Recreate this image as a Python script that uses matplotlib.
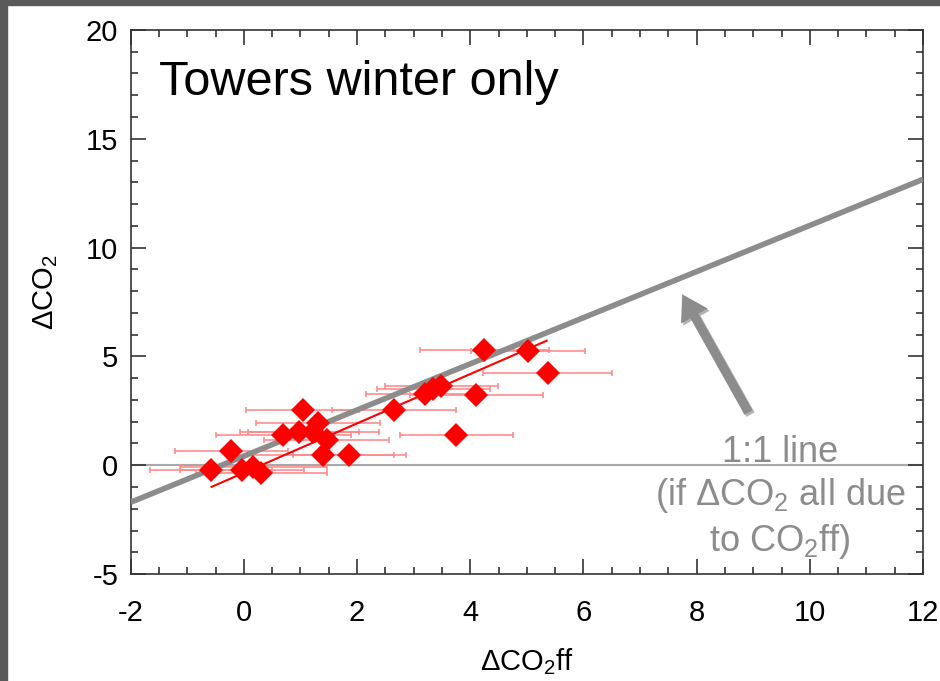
import numpy as np
import matplotlib.pyplot as plt
import matplotlib.patheffects as pe
from matplotlib.patches import Rectangle
from matplotlib.ticker import MultipleLocator

plt.rcParams['font.family'] = ['Liberation Sans', 'DejaVu Sans']
plt.rcParams['mathtext.fontset'] = 'custom'
plt.rcParams['mathtext.rm'] = 'Liberation Sans'
plt.rcParams['mathtext.default'] = 'regular'
plt.rcParams['axes.unicode_minus'] = False

# tower observations (winter): fossil fuel CO2 vs total CO2 enhancement
co2ff = [-0.58, -0.22, -0.03, 0.17, 0.31, 0.70, 0.98, 1.04, 1.23, 1.31, 1.40,
         1.46, 1.86, 2.65, 3.20, 3.35, 3.49, 3.75, 4.11, 4.25, 5.02, 5.37]
co2 = [-0.20, 0.67, -0.20, -0.07, -0.35, 1.37, 1.54, 2.54, 1.54, 1.95, 0.47,
       1.16, 0.47, 2.54, 3.26, 3.50, 3.64, 1.39, 3.23, 5.29, 5.26, 4.22]
co2ff_err = [1.08, 1.00, 1.10, 1.30, 1.15, 1.20, 1.05, 1.00, 1.15, 1.10, 1.25,
             1.10, 1.00, 1.10, 1.05, 1.00, 1.00, 1.00, 1.17, 1.14, 1.00, 1.14]

# linear fit through the points
fit_slope, fit_intercept = 1.134, -0.345
fit_xrange = [-0.57, 5.35]

# reference "1:1" line as drawn
ref_slope, ref_intercept = 1.06, 0.42

xlim = (-2, 12)
ylim = (-5, 20)

fig = plt.figure(figsize=(9.4, 6.81), dpi=100)
ax = fig.add_axes([0.139, 0.157, 0.843, 0.799])

# dark frame on left and top of the slide
fig.patches.append(Rectangle((0, 0), 7 / 940, 1, transform=fig.transFigure,
                             color='#5a5a5a', zorder=-1))
fig.patches.append(Rectangle((0, 1 - 5 / 681), 1, 5 / 681, transform=fig.transFigure,
                             color='#5a5a5a', zorder=-1))

ax.axhline(0, color='#a8a8a8', lw=1.5, zorder=1)

xr = np.array(xlim, dtype=float)
ax.plot(xr, ref_slope * xr + ref_intercept, color='#8c8c8c', lw=4.0,
        solid_capstyle='butt', zorder=4)

ax.errorbar(co2ff, co2, xerr=co2ff_err, fmt='none', ecolor='#ff8c8c',
            elinewidth=1.2, capsize=2.5, capthick=1.2, zorder=2)

fx = np.array(fit_xrange)
ax.plot(fx, fit_slope * fx + fit_intercept, color='red', lw=1.5, zorder=3)

ax.plot(co2ff, co2, 'D', color='red', ms=12, mec='red', mew=0, zorder=5)

ax.set_xlim(*xlim)
ax.set_ylim(*ylim)
ax.xaxis.set_major_locator(MultipleLocator(2))
ax.xaxis.set_minor_locator(MultipleLocator(0.5))
ax.yaxis.set_major_locator(MultipleLocator(5))
ax.yaxis.set_minor_locator(MultipleLocator(1))
ax.tick_params(which='both', direction='in', top=True, right=True,
               color='#333333', width=1.2, labelsize=21)
ax.tick_params(which='major', length=11)
ax.tick_params(which='minor', length=5)
ax.tick_params(axis='x', pad=18)
ax.tick_params(axis='y', pad=9)
for s in ax.spines.values():
    s.set_color('#333333')
    s.set_linewidth(1.2)

ax.text(-1.5, 17.6, 'Towers winter only', fontsize=35, va='center', ha='left')

ax.annotate('', xy=(7.72, 7.97), xytext=(8.94, 2.31),
            arrowprops=dict(arrowstyle='simple,head_length=0.9,head_width=1.1,tail_width=0.33',
                            mutation_scale=20, color='#8c8c8c', lw=0,
                            path_effects=[pe.SimplePatchShadow(offset=(1.5, -1.5), alpha=0.35),
                                          pe.Normal()]),
            zorder=6)

ax.text(9.47, 0.6, '1:1 line', color='#8c8c8c', fontsize=26, ha='center', va='center')
ax.text(9.47, -1.4, '(if ΔCO$_2$ all due', color='#8c8c8c', fontsize=26,
        ha='center', va='center')
ax.text(9.47, -3.5, 'to CO$_2$ff)', color='#8c8c8c', fontsize=26,
        ha='center', va='center')

fig.text(527 / 940, 1 - 662 / 681, 'ΔCO$_2$ff', fontsize=21, ha='center', va='center')
fig.text(46 / 940, 1 - 292 / 681, 'ΔCO$_2$', fontsize=21, ha='center', va='center',
         rotation=90)

fig.savefig('out.png', dpi=100)
